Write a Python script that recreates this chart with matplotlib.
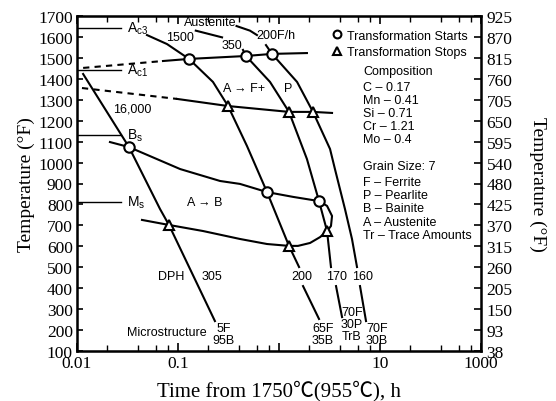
import numpy as np
import matplotlib.pyplot as plt
from matplotlib.ticker import FixedLocator, FixedFormatter

nan = np.nan

# axis ticks
y_ticks_F = list(range(100, 1800, 100))
y_labels_C = ["38", "93", "150", "205", "260", "315", "370", "425", "480",
              "540", "595", "650", "705", "760", "815", "870", "925"]
x_major = [0.01, 0.1, 1, 10, 100]
x_labels = ["0.01", "0.1", "", "10", "1000"]
x_minor = [m * d for d in [0.01, 0.1, 1, 10] for m in (2, 4, 6, 8)]

# critical temperatures (F) drawn from the left edge
crit_names = ["A$_{c3}$", "A$_{c1}$", "B$_s$", "M$_s$"]
crit_T = [1645, 1442, 1132, 812]
crit_end_t = 0.027

# ferrite start line (dashed part, solid part)
fstart_dash_t = [0.0115, 0.071]
fstart_dash_T = [1452, 1485]
fstart_t = [0.071, 0.1285, 0.471, 0.853, 1.89]
fstart_T = [1485, 1495, 1509, 1519, 1523]

# ferrite/pearlite stop line
fstop_dash_t = [0.0112, 0.0977]
fstop_dash_T = [1356, 1304]
fstop_t = [0.0977, 0.313, 1.256, 2.17, 3.35]
fstop_T = [1304, 1270, 1242, 1242, 1237]

# bainite start / stop loop
bain_t = [0.0212, 0.0327, 0.105, 0.261, 0.411, 0.761, 1.38, 2.49, 2.99, 3.35,
          3.27, 2.99, 2.55, 2.03, 1.54, 1.256, 0.761, 0.411, 0.177, 0.0814, 0.044]
bain_T = [1098, 1074, 969, 912, 898, 859, 836, 816, 793, 745,
          697, 673, 644, 616, 602, 602, 611, 635, 673, 702, 726]

# cooling curves (F/h), nan = gap for a label
cool_16000_t = [0.0115, 0.0327, 0.0664, 0.0814, 0.232]
cool_16000_T = [1423, 1074, 778, 702, 243]
cool_1500_t = [0.0493, 0.0778, 0.1285, 0.222, 0.313, 0.482, 0.761, 1.256, 1.58, nan, 1.73, 2.49]
cool_1500_T = [1609, 1566, 1495, 1385, 1270, 1079, 859, 602, 501, nan, 410, 253]
cool_350_t = [0.150, 0.273, nan, 0.440, 0.471, 0.815, 1.256, 1.89, 2.49, 2.99, 3.27, nan, 3.67, 4.21]
cool_350_T = [1630, 1598, nan, 1538, 1509, 1385, 1242, 1017, 816, 673, 501, nan, 410, 262]
cool_200_t = [0.380, 0.516, 0.605, nan, 0.743, 0.853, 1.51, 2.17, 3.20, 3.58, 4.50, 5.28, 5.92, nan, 6.34, 7.27]
cool_200_T = [1652, 1630, 1609, nan, 1561, 1519, 1385, 1242, 1065, 969, 778, 635, 501, nan, 410, 243]

# transformation markers
start_t = [0.1285, 0.471, 0.853, 0.0327, 0.761, 2.49]
start_T = [1495, 1509, 1519, 1074, 859, 816]
stop_t = [0.313, 1.256, 2.17, 0.0814, 1.256, 2.99]
stop_T = [1270, 1242, 1242, 702, 602, 673]

composition = ["C \u2013 0.17", "Mn \u2013 0.41", "Si \u2013 0.71", "Cr \u2013 1.21", "Mo \u2013 0.4"]
phases = ["F \u2013 Ferrite", "P \u2013 Pearlite", "B \u2013 Bainite", "A \u2013 Austenite", "Tr \u2013 Trace Amounts"]

plt.rcParams['mathtext.default'] = 'regular'
SANS = ['Liberation Sans', 'DejaVu Sans']
SERIF = ['Liberation Serif', 'Noto Sans CJK JP', 'DejaVu Serif']

fig = plt.figure(figsize=(5.56, 4.02), dpi=100)
ax = fig.add_axes([77 / 556, 1 - 352 / 402, 404 / 556, 335 / 402])
ax.set_xscale('log')
ax.set_xlim(0.01, 100)
ax.set_ylim(100, 1700)

lw = 1.5
k = 'black'
for T in crit_T:
    ax.plot([0.01, crit_end_t], [T, T], color=k, lw=1.0)
for name, T in zip(crit_names, crit_T):
    ax.text(0.0313, T, name, fontsize=10, family=SANS, ha='left', va='center')

ax.plot(fstart_dash_t, fstart_dash_T, color=k, lw=lw, ls=(0, (3, 2.5)))
ax.plot(fstart_t, fstart_T, color=k, lw=lw)
ax.plot(fstop_dash_t, fstop_dash_T, color=k, lw=lw, ls=(0, (3, 2.5)))
ax.plot(fstop_t, fstop_T, color=k, lw=lw)
ax.plot(bain_t, bain_T, color=k, lw=lw)

for t, T in [(cool_16000_t, cool_16000_T), (cool_1500_t, cool_1500_T),
             (cool_350_t, cool_350_T), (cool_200_t, cool_200_T)]:
    ax.plot(t, T, color=k, lw=lw)

h_start, = ax.plot(start_t, start_T, 'o', ms=7.5, mfc='white', mec=k, mew=1.5, ls='none', zorder=5)
h_stop, = ax.plot(stop_t, stop_T, '^', ms=7, mfc='white', mec=k, mew=1.5, ls='none', zorder=5)

# annotations inside the chart
notes = [
    (0.2075, 1670, "Austenite", 'center'),
    (0.1047, 1600, "1500", 'center'),
    (0.343, 1561, "350", 'center'),
    (0.933, 1609, "200F/h", 'center'),
    (0.279, 1356, "A \u2192 F+", 'left'),
    (1.12, 1356, "P", 'left'),
    (0.1227, 812, "A \u2192 B", 'left'),
    (0.0227, 1256, "16,000", 'left'),
    (0.0634, 458, "DPH", 'left'),
    (0.1728, 458, "305", 'left'),
    (0.0313, 191, "Microstructure", 'left'),
    (1.69, 458, "200", 'center'),
    (3.75, 458, "170", 'center'),
    (6.79, 458, "160", 'center'),
]
for t, T, s, ha in notes:
    ax.text(t, T, s, fontsize=9, family=SANS, ha=ha, va='center')

micro = [(0.285, 181, "5F\n95B"), (2.73, 183, "65F\n35B"),
         (5.28, 229, "70F\n30P\nTrB"), (9.34, 183, "70F\n30B")]
for t, T, s in micro:
    ax.text(t, T, s, fontsize=9, family=SANS, ha='center', va='center', linespacing=1.0)

# right-hand legend / text block
ax.legend([h_start, h_stop], ["Transformation Starts", "Transformation Stops"],
          loc='upper left', bbox_to_anchor=(0.615, 0.978), frameon=False,
          prop={'family': SANS, 'size': 9}, handlelength=0.8, handletextpad=0.4,
          labelspacing=0.35, borderpad=0, markerscale=0.75)
xb = (363 - 77) / 404
def yf(py):
    return (352 - py) / 335
ax.text(xb, yf(72), "Composition", transform=ax.transAxes, fontsize=9, family=SANS, va='center')
for i, s in enumerate(composition):
    ax.text(xb, yf(88 + 13 * i), s, transform=ax.transAxes, fontsize=9, family=SANS, va='center')
ax.text(xb, yf(167), "Grain Size: 7", transform=ax.transAxes, fontsize=9, family=SANS, va='center')
for i, s in enumerate(phases):
    ax.text(xb, yf(183 + 13.25 * i), s, transform=ax.transAxes, fontsize=9, family=SANS, va='center')

# ticks and labels
ax.xaxis.set_major_locator(FixedLocator(x_major))
ax.xaxis.set_major_formatter(FixedFormatter(x_labels))
ax.xaxis.set_minor_locator(FixedLocator(x_minor))
ax.xaxis.set_minor_formatter(FixedFormatter([""] * len(x_minor)))
ax.set_yticks(y_ticks_F)
ax.tick_params(axis='x', which='major', direction='in', top=True, length=6, width=1.2,
               labelsize=12.5, pad=3)
ax.tick_params(axis='x', which='minor', direction='in', top=True, length=4, width=1.0)
ax.tick_params(axis='y', direction='in', length=4, width=1.2, labelsize=12.5, pad=3)
for lab in ax.get_xticklabels() + ax.get_yticklabels():
    lab.set_family(SERIF)
for sp in ax.spines.values():
    sp.set_linewidth(1.8)

ax2 = ax.twinx()
ax2.set_ylim(100, 1700)
ax2.set_yticks(y_ticks_F)
ax2.set_yticklabels(y_labels_C)
ax2.tick_params(axis='y', direction='in', length=5, width=1.2, labelsize=12.5, pad=4)
for lab in ax2.get_yticklabels():
    lab.set_family(SERIF)

ax.set_xlabel("Time from 1750\u2103(955\u2103), h", fontsize=15, family=SERIF, labelpad=6)
ax.set_ylabel("Temperature (\u00b0F)", fontsize=14, family=SERIF, labelpad=2)
ax2.set_ylabel("Temperature (\u00b0F)", fontsize=14, family=SERIF, rotation=270, labelpad=24)

fig.savefig("out.png", dpi=100)
